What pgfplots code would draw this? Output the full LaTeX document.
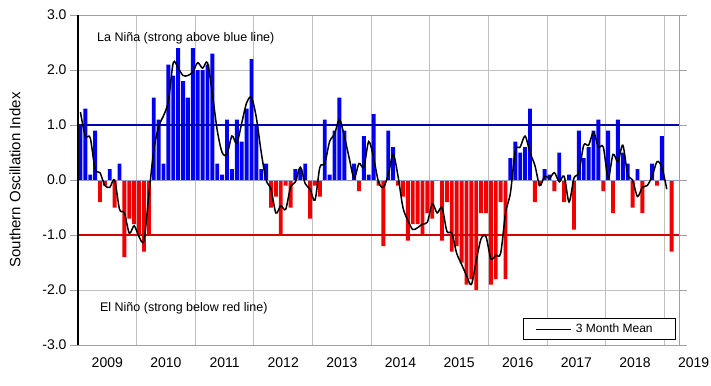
\documentclass[border=0pt]{standalone}
\usepackage{fontspec}
\setmainfont{Liberation Sans}
\usepackage{pgfplots}
\pgfplotsset{compat=1.18}
\usepackage{pgfplotstable}

\definecolor{barblue}{RGB}{0,0,240}
\definecolor{barred}{RGB}{240,0,0}
\definecolor{gridgray}{RGB}{192,192,192}
\definecolor{framegray}{RGB}{160,160,160}
\definecolor{navyline}{RGB}{0,0,180}
\definecolor{redline}{RGB}{215,0,0}
\definecolor{zeroline}{RGB}{150,150,195}

% monthly SOI, Jan 2009 = 0.5
\pgfplotstableread{
x soi
0.5 1.0
1.5 1.3
2.5 0.1
3.5 0.9
4.5 -0.4
5.5 -0.1
6.5 0.2
7.5 -0.5
8.5 0.3
9.5 -1.4
10.5 -0.7
11.5 -0.8
12.5 -1.0
13.5 -1.3
14.5 -1.0
15.5 1.5
16.5 1.1
17.5 0.3
18.5 2.1
19.5 1.9
20.5 2.4
21.5 1.8
22.5 1.5
23.5 2.4
24.5 2.0
25.5 2.0
26.5 2.1
27.5 2.3
28.5 0.3
29.5 0.1
30.5 1.1
31.5 0.2
32.5 1.1
33.5 0.7
34.5 1.3
35.5 2.2
36.5 1.0
37.5 0.2
38.5 0.3
39.5 -0.5
40.5 -0.3
41.5 -1.0
42.5 -0.1
43.5 -0.5
44.5 0.2
45.5 0.2
46.5 0.3
47.5 -0.7
48.5 -0.1
49.5 -0.3
50.5 1.1
51.5 0.1
52.5 0.9
53.5 1.5
54.5 0.9
55.5 0.0
56.5 0.3
57.5 -0.2
58.5 0.8
59.5 0.1
60.5 1.2
61.5 -0.1
62.5 -1.2
63.5 0.9
64.5 0.6
65.5 -0.1
66.5 -0.3
67.5 -1.1
68.5 -0.8
69.5 -0.8
70.5 -1.0
71.5 -0.6
72.5 -0.7
73.5 0.0
74.5 -1.1
75.5 -0.4
76.5 -1.3
77.5 -1.2
78.5 -1.5
79.5 -1.9
80.5 -1.8
81.5 -2.0
82.5 -0.6
83.5 -0.6
84.5 -1.9
85.5 -1.8
86.5 -0.4
87.5 -1.8
88.5 0.4
89.5 0.7
90.5 0.5
91.5 0.6
92.5 1.3
93.5 -0.4
94.5 -0.1
95.5 0.2
96.5 0.1
97.5 -0.2
98.5 0.5
99.5 -0.4
100.5 0.1
101.5 -0.9
102.5 0.9
103.5 0.4
104.5 0.6
105.5 0.9
106.5 1.1
107.5 -0.2
108.5 0.9
109.5 -0.6
110.5 1.1
111.5 0.5
112.5 0.3
113.5 -0.5
114.5 0.2
115.5 -0.6
116.5 0.0
117.5 0.3
118.5 -0.1
119.5 0.8
120.5 0.0
121.5 -1.3
}\soidata

% centred 3 month mean
\pgfplotstableread{
x mean
0.5 1.233
1.5 0.800
2.5 0.767
3.5 0.200
4.5 0.133
5.5 -0.100
6.5 -0.133
7.5 0.000
8.5 -0.533
9.5 -0.600
10.5 -0.967
11.5 -0.833
12.5 -1.033
13.5 -1.100
14.5 -0.267
15.5 0.533
16.5 0.967
17.5 1.167
18.5 1.433
19.5 2.133
20.5 2.033
21.5 1.900
22.5 1.900
23.5 1.967
24.5 2.133
25.5 2.033
26.5 2.133
27.5 1.567
28.5 0.900
29.5 0.500
30.5 0.467
31.5 0.800
32.5 0.667
33.5 1.033
34.5 1.400
35.5 1.500
36.5 1.133
37.5 0.500
38.5 0.000
39.5 -0.167
40.5 -0.600
41.5 -0.467
42.5 -0.533
43.5 -0.133
44.5 -0.033
45.5 0.233
46.5 -0.067
47.5 -0.167
48.5 -0.367
49.5 0.233
50.5 0.300
51.5 0.700
52.5 0.833
53.5 1.100
54.5 0.800
55.5 0.400
56.5 0.033
57.5 0.300
58.5 0.233
59.5 0.700
60.5 0.400
61.5 -0.033
62.5 -0.133
63.5 0.100
64.5 0.467
65.5 0.067
66.5 -0.500
67.5 -0.733
68.5 -0.900
69.5 -0.867
70.5 -0.800
71.5 -0.767
72.5 -0.433
73.5 -0.600
74.5 -0.500
75.5 -0.933
76.5 -0.967
77.5 -1.333
78.5 -1.533
79.5 -1.733
80.5 -1.900
81.5 -1.467
82.5 -1.067
83.5 -1.033
84.5 -1.433
85.5 -1.367
86.5 -1.333
87.5 -0.600
88.5 -0.233
89.5 0.533
90.5 0.600
91.5 0.800
92.5 0.500
93.5 0.267
94.5 -0.100
95.5 0.067
96.5 0.033
97.5 0.133
98.5 -0.033
99.5 0.067
100.5 -0.400
101.5 0.033
102.5 0.133
103.5 0.633
104.5 0.633
105.5 0.867
106.5 0.600
107.5 0.600
108.5 0.033
109.5 0.467
110.5 0.333
111.5 0.633
112.5 0.100
113.5 0.000
114.5 -0.300
115.5 -0.133
116.5 -0.100
117.5 0.067
118.5 0.333
119.5 0.233
120.5 -0.167
}\meandata

\begin{document}
\begin{tikzpicture}
\useasboundingbox (-78pt,-40pt) rectangle (633pt,345pt);
\begin{axis}[
  scale only axis, width=601pt, height=330pt,
  at={(0pt,0pt)}, anchor=south west,
  xmin=0, xmax=123, ymin=-3, ymax=3,
  clip=false,
  axis line style={draw=none},
  xtick={6,18,30,42,54,66,78,90,102,114},
  xticklabels={2009,2010,2011,2012,2013,2014,2015,2016,2017,2018},
  minor xtick={12,24,36,48,60,72,84,96,108,120},
  xminorgrids=true, xmajorgrids=false, ymajorgrids=true,
  grid style={gridgray, line width=1pt},
  minor grid style={gridgray, line width=1pt},
  ytick={-3,-2,-1,0,1,2,3},
  tick align=outside,
  major tick length=8pt, minor tick length=0pt,
  xtick style={draw=none},
  ytick style={draw=framegray, line width=1pt},
  tick label style={font=\fontsize{14}{16}\selectfont},
  xticklabel style={anchor=base, yshift=-14pt},
  yticklabel style={/pgf/number format/.cd, fixed, fixed zerofill, precision=1, assume math mode=true},
  every axis y label/.style={at={(axis description cs:0,0.5)}, xshift=-63pt, rotate=90, anchor=center, font=\fontsize{15}{17}\selectfont},
  ylabel={Southern Oscillation Index},
  legend style={at={(axis cs:122.4,-2.91)}, anchor=south east, draw=black, line width=0.8pt,
    font=\fontsize{12}{14}\selectfont, inner xsep=12pt, inner ysep=3.5pt},
  legend cell align=left,
]
\addplot[ybar, bar width=3.9pt, bar shift=0pt, fill=barblue, draw=none,
  restrict y to domain=0:3, forget plot] table[x=x, y=soi] {\soidata};
\addplot[ybar, bar width=3.9pt, bar shift=0pt, fill=barred, draw=none,
  restrict y to domain=-3:0, forget plot] table[x=x, y=soi] {\soidata};

% reference lines
\addplot[zeroline, line width=1pt, forget plot] coordinates {(0,0) (123,0)};
\addplot[navyline, line width=1.05pt, forget plot] coordinates {(0,1) (123,1)};
\addplot[redline, line width=1.05pt, forget plot] coordinates {(0,-1) (123,-1)};

% frame
\addplot[framegray, line width=1pt, forget plot] coordinates {(0,3) (123,3) (123,-3) (0,-3)};
\addplot[black, line width=1.2pt, forget plot] coordinates {(0,-3) (0,3)};

\addplot[black, line width=1.5pt, smooth, tension=0.5,
  legend image code/.code={\draw[black, line width=0.9pt] (0pt,0pt) -- (35pt,0pt);}]
  table[x=x, y=mean] {\meandata};
\addlegendentry{\hspace*{3pt}3 Month Mean\rule{9pt}{0pt}}

\node[anchor=west, font=\fontsize{12.5}{14}\selectfont] at (axis cs:3.2,2.58) {La Niña (strong above blue line)};
\node[anchor=west, font=\fontsize{12.5}{14}\selectfont] at (axis cs:3.8,-2.33) {El Niño (strong below red line)};
\node[anchor=base, font=\fontsize{14}{16}\selectfont, yshift=-22pt] at (axis cs:126,-3) {2019};
\end{axis}
\end{tikzpicture}
\end{document}
